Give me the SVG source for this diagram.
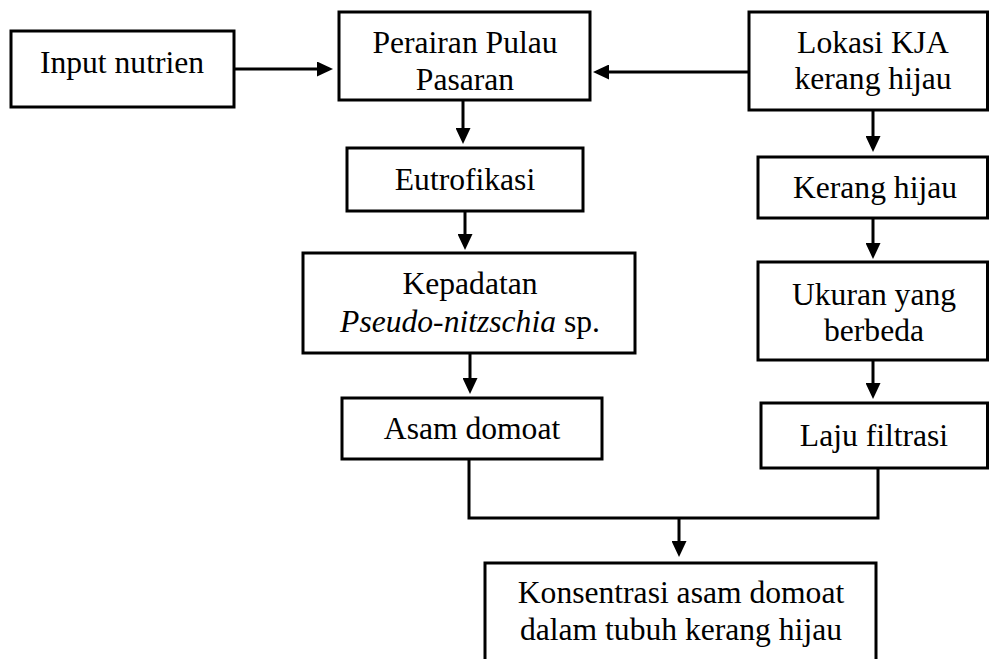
<svg xmlns="http://www.w3.org/2000/svg" width="989" height="659" viewBox="0 0 989 659">
<style>
.box{fill:#fff;stroke:#000;stroke-width:3}
.t{font-family:"Liberation Serif","Times New Roman",serif;font-size:31.6px;fill:#000;text-anchor:middle}
.c{fill:none;stroke:#000;stroke-width:3}
.a{marker-end:url(#ah)}
</style>
<defs>
<marker id="ah" markerUnits="userSpaceOnUse" markerWidth="16" markerHeight="15" refX="12" refY="7.5" orient="auto">
<path d="M0,0 L16,7.5 L0,15 z" fill="#000"/>
</marker>
</defs>
<rect width="989" height="659" fill="#fff"/>
<g id="connectors">
<line class="c a" x1="234" y1="69" x2="329" y2="69"/>
<line class="c a" x1="749" y1="72" x2="597" y2="72"/>
<line class="c a" x1="463" y1="100" x2="463" y2="140"/>
<line class="c a" x1="465" y1="211" x2="465" y2="246"/>
<line class="c a" x1="470" y1="353" x2="470" y2="390"/>
<line class="c a" x1="873" y1="110" x2="873" y2="148"/>
<line class="c a" x1="873" y1="218" x2="873" y2="255"/>
<line class="c a" x1="873" y1="360" x2="873" y2="395"/>
<polyline class="c" points="469,459 469,518 878,518 878,468"/>
<line class="c a" x1="679" y1="518" x2="679" y2="553"/>
</g>
<g id="input">
<rect class="box" x="11" y="31" width="223" height="76"/>
<text class="t" x="122" y="73">Input nutrien</text>
</g>
<g id="perairan">
<rect class="box" x="339" y="12" width="251" height="88"/>
<text class="t" x="465" y="53">Perairan Pulau</text>
<text class="t" x="465" y="90">Pasaran</text>
</g>
<g id="lokasi">
<rect class="box" x="749" y="12" width="238.5" height="98"/>
<text class="t" x="873" y="53">Lokasi KJA</text>
<text class="t" x="873" y="89">kerang hijau</text>
</g>
<g id="eutrofikasi">
<rect class="box" x="347" y="148" width="236" height="63"/>
<text class="t" x="465" y="190">Eutrofikasi</text>
</g>
<g id="kerang">
<rect class="box" x="758" y="157" width="229.5" height="61"/>
<text class="t" x="875" y="198">Kerang hijau</text>
</g>
<g id="kepadatan">
<rect class="box" x="303" y="253" width="332" height="100"/>
<text class="t" x="470" y="294">Kepadatan</text>
<text class="t" x="470" y="332"><tspan font-style="italic">Pseudo-nitzschia</tspan> sp.</text>
</g>
<g id="ukuran">
<rect class="box" x="758" y="262" width="229.5" height="98"/>
<text class="t" x="874" y="305">Ukuran yang</text>
<text class="t" x="874" y="341">berbeda</text>
</g>
<g id="asam">
<rect class="box" x="342" y="398" width="260" height="61"/>
<text class="t" x="472" y="439">Asam domoat</text>
</g>
<g id="laju">
<rect class="box" x="761" y="403" width="226.5" height="65"/>
<text class="t" x="874" y="446">Laju filtrasi</text>
</g>
<g id="konsentrasi">
<rect class="box" x="485" y="563" width="391" height="110"/>
<text class="t" x="681" y="603">Konsentrasi asam domoat</text>
<text class="t" x="681" y="640">dalam tubuh kerang hijau</text>
</g>
</svg>
